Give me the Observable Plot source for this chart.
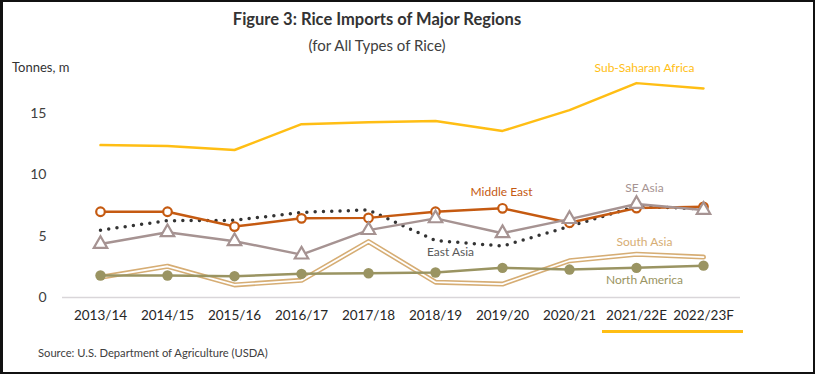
<!DOCTYPE html>
<html><head><meta charset="utf-8">
<script src="https://cdn.jsdelivr.net/npm/d3@7"></script>
<script src="https://cdn.jsdelivr.net/npm/@observablehq/plot@0.6"></script>
<style>
body{margin:0;background:#fff;}
#wrap{position:relative;width:815px;height:374px;overflow:hidden;font-family:Lato,"Open Sans",sans-serif;background:#fff;}
#chart{position:absolute;left:0;top:0;}
#frame{position:absolute;left:0;top:0;width:815px;height:374px;box-sizing:border-box;border:2px solid #111;border-left-width:3px;pointer-events:none;}
.t{position:absolute;white-space:nowrap;}
#uline{position:absolute;left:602px;top:330px;width:141px;height:3px;background:#FFBE14;}
</style></head><body>
<div id="wrap">
  <div id="chart"></div>
  <div class="t" style="left:0;width:754px;text-align:center;top:9px;font-size:16.5px;font-weight:bold;color:#333">Figure 3: Rice Imports of Major Regions</div>
  <div class="t" style="left:0;width:754px;text-align:center;top:36px;font-size:15px;color:#404040">(for All Types of Rice)</div>
  <div class="t" style="left:12px;top:59px;font-size:13px;color:#333">Tonnes, m</div>
  <div id="uline"></div>
  <div class="t" style="left:38px;top:346px;font-size:11.2px;color:#404040">Source: U.S. Department of Agriculture (USDA)</div>
  <div id="frame"></div>
</div>
<script>
const seasons = ["2013/14","2014/15","2015/16","2016/17","2017/18","2018/19","2019/20","2020/21","2021/22E","2022/23F"];
const subSaharanAfrica = [12.44, 12.36, 12.04, 14.15, 14.3, 14.4, 13.6, 15.3, 17.5, 17.06];
const middleEast       = [7.0, 7.0, 5.79, 6.46, 6.5, 7.0, 7.28, 6.1, 7.3, 7.4];
const eastAsia         = [5.5, 6.27, 6.3, 6.95, 7.15, 4.65, 4.2, 5.8, 7.45, 7.23];
const seAsia           = [4.37, 5.32, 4.6, 3.5, 5.5, 6.46, 5.25, 6.4, 7.63, 7.15];
const southAsia        = [1.65, 2.55, 1.03, 1.4, 4.56, 1.25, 1.1, 3.0, 3.53, 3.3];
const northAmerica     = [1.8, 1.8, 1.74, 1.93, 1.98, 2.04, 2.42, 2.28, 2.42, 2.6];
const yTicks = [0, 5, 10, 15];

const labelNames   = ["Sub-Saharan Africa", "Middle East", "SE Asia", "East Asia", "South Asia", "North America"];
const labelSeasons = ["2021/22E", "2019/20", "2021/22E", "2018/19", "2021/22E", "2021/22E"];
const labelValues  = [18.74, 8.58, 8.96, 3.67, 4.48, 1.39];

const C = {
  "Sub-Saharan Africa": "#FFBE14",
  "Middle East": "#C55A11",
  "SE Asia": "#A69392",
  "East Asia": "#333333",
  "South Asia": "#D6AD74",
  "North America": "#9A9462"
};
const labelColors = {...C, "East Asia": "#595959"};

const rows = (vals) => vals.map((v, i) => ({season: seasons[i], value: v}));
const labels = labelNames.map((n, i) => ({name: n, season: labelSeasons[i], value: labelValues[i]}));

const lineOpts = (stroke, w = 2.5) => ({x: "season", y: "value", stroke, strokeWidth: w, curve: "linear"});

const chart = Plot.plot({
  width: 815, height: 374,
  marginLeft: 62, marginRight: 75, marginTop: 52, marginBottom: 77,
  style: {fontFamily: "Lato, 'Open Sans', sans-serif", background: "transparent"},
  x: {type: "point", domain: seasons, padding: 0.5, label: null},
  y: {domain: [0, 20], label: null},
  marks: [
    Plot.ruleY([0], {stroke: "#d9d6d9", strokeWidth: 1.5}),
    Plot.axisY(yTicks, {tickSize: 0, tickPadding: 16, fontSize: 14, fill: "#404040", label: null}),
    Plot.axisX({tickSize: 0, tickPadding: 13, fontSize: 13.5, fill: "#262626", label: null}),
    // South Asia double line
    Plot.line(rows(southAsia), lineOpts(C["South Asia"], 5)),
    Plot.line(rows(southAsia), lineOpts("#ffffff", 1.8)),
    // North America
    Plot.line(rows(northAmerica), lineOpts(C["North America"], 2.5)),
    Plot.dot(rows(northAmerica), {x: "season", y: "value", r: 5.2, fill: C["North America"], stroke: "none"}),
    // East Asia dotted
    Plot.line(rows(eastAsia), {x: "season", y: "value", stroke: C["East Asia"], strokeWidth: 3.5, strokeDasharray: "0,8.3", strokeLinecap: "round"}),
    // Middle East
    Plot.line(rows(middleEast), lineOpts(C["Middle East"], 2.5)),
    Plot.dot(rows(middleEast), {x: "season", y: "value", r: 4.3, fill: "#fff", stroke: C["Middle East"], strokeWidth: 2.2}),
    // SE Asia
    Plot.line(rows(seAsia), lineOpts(C["SE Asia"], 2.5)),
    Plot.dot(rows(seAsia), {x: "season", y: "value", symbol: "triangle", r: 5, fill: "#fff", stroke: C["SE Asia"], strokeWidth: 2.2}),
    // Sub-Saharan Africa
    Plot.line(rows(subSaharanAfrica), lineOpts(C["Sub-Saharan Africa"], 2.5)),
    // labels
    Plot.text(labels.filter(d => d.season === "2021/22E"), {x: "season", y: "value", text: "name", dx: 8, fontSize: 12, fill: d => labelColors[d.name]}),
    Plot.text(labels.filter(d => d.name === "Middle East"), {x: "season", y: "value", text: "name", dx: -1, fontSize: 12, fill: d => labelColors[d.name]}),
    Plot.text(labels.filter(d => d.name === "East Asia"), {x: "season", y: "value", text: "name", dx: 15, fontSize: 12, fill: d => labelColors[d.name]})
  ]
});
document.getElementById("chart").appendChild(chart);
</script>
</body></html>
